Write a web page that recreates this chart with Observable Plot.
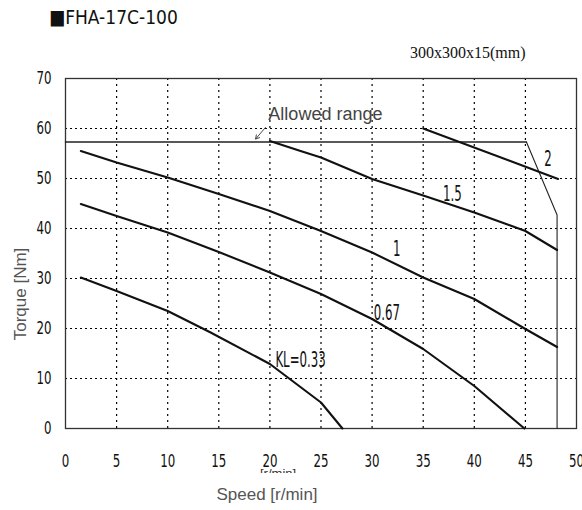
<!DOCTYPE html>
<html>
<head>
<meta charset="utf-8">
<script src="https://cdn.jsdelivr.net/npm/d3@7"></script>
<script src="https://cdn.jsdelivr.net/npm/@observablehq/plot@0.6"></script>
<style>
  html, body { margin: 0; padding: 0; background: #fff; }
  #wrap { position: relative; width: 582px; height: 510px; overflow: hidden; }
  #wrap svg { position: absolute; left: 0; top: 0; }
  .narrow { font-family: "Liberation Sans Narrow", "DejaVu Sans Condensed", "Arial Narrow", sans-serif; }
  #title { position: absolute; left: 49px; top: 5px; font-size: 20px; color: #111; transform: scaleX(0.95); transform-origin: left center; white-space: nowrap; }
  #sub { position: absolute; left: 410px; top: 44px; font-family: "Liberation Serif", "DejaVu Serif", serif; font-size: 16px; color: #111; white-space: nowrap; }
  #unit { position: absolute; left: 260px; top: 466px; height: 7px; overflow: hidden; font-family: "Liberation Sans", Arial, sans-serif; font-size: 13px; line-height: 15px; color: #333; white-space: nowrap; }
  #ylab { position: absolute; left: 21px; top: 294px; font-family: "Liberation Sans", Arial, sans-serif; font-size: 17px; color: #555; white-space: nowrap; transform: translate(-50%, -50%) rotate(-90deg); }
</style>
</head>
<body>
<div id="wrap">
  <div id="title" class="narrow">■FHA-17C-100</div>
  <div id="sub">300x300x15(mm)</div>
  <div id="unit">[r/min]</div>
  <div id="ylab"></div>
</div>
<script>
// ---- data ----
const xTicks = [0, 5, 10, 15, 20, 25, 30, 35, 40, 45, 50];
const yTicks = [0, 10, 20, 30, 40, 50, 60, 70];

const curveNames = ["2", "1.5", "1", "0.67", "KL=0.33"];

const speed2 = [35, 48.2];
const torque2 = [60, 49.9];

const speed15 = [20, 23, 25, 30, 35, 40, 45, 48.1];
const torque15 = [57.5, 55.5, 54.2, 49.9, 46.6, 43.2, 39.5, 35.7];

const speed1 = [1.5, 5, 10, 15, 20, 25, 30, 35, 40, 45, 48.1];
const torque1 = [55.5, 53.2, 50.2, 46.9, 43.5, 39.5, 35.2, 30.2, 25.9, 19.9, 16.3];

const speed067 = [1.5, 5, 10, 15, 20, 25, 30, 35, 40, 44.9];
const torque067 = [44.9, 42.5, 39.2, 35.3, 31.2, 26.9, 21.9, 15.9, 8.5, 0];

const speed033 = [1.5, 5, 10, 14.2, 20, 25, 27.1];
const torque033 = [30.2, 27.5, 23.5, 19.2, 12.9, 5.2, 0];

const allowedSpeed = [0, 45.1, 48.1, 48.1];
const allowedTorque = [57.3, 57.3, 42.7, 0];

const labelSpeed = [47.2, 37.85, 32.4, 31.45, 23.0];
const labelTorque = [53.8, 46.8, 35.9, 23.1, 13.7];

const allowedLabel = "Allowed range";
const allowedLabelSpeed = 19.85;
const allowedLabelTorque = 62.9;
const arrowFrom = [19.56, 60.2];
const arrowTo = [18.6, 57.9];

const xLabel = "Speed [r/min]";
const yLabel = "Torque [Nm]";

// ---- build tables ----
const speeds = [speed2, speed15, speed1, speed067, speed033];
const torques = [torque2, torque15, torque1, torque067, torque033];
const curves = [];
curveNames.forEach((n, i) => speeds[i].forEach((s, j) => curves.push({kl: n, speed: s, torque: torques[i][j]})));
const allowed = allowedSpeed.map((s, i) => ({speed: s, torque: allowedTorque[i]}));
const allowedFlat = allowed.slice(0, 2);
const allowedEdge = allowed.slice(1);
const labels = curveNames.map((n, i) => ({name: n, speed: labelSpeed[i], torque: labelTorque[i]}));
const gridX = xTicks.filter(t => t > 0 && t < 50);
const gridY = yTicks.filter(t => t > 0 && t < 70);

const narrow = '"Liberation Sans Narrow", "DejaVu Sans Condensed", "Arial Narrow", sans-serif';
const sans = '"Liberation Sans", Arial, sans-serif';

const chart = Plot.plot({
  width: 582,
  height: 510,
  marginLeft: 65,
  marginRight: 6,
  marginTop: 78,
  marginBottom: 82,
  style: {fontFamily: narrow, fontSize: "16px", color: "#111", background: "transparent"},
  x: {domain: [0, 50]},
  y: {domain: [0, 70]},
  marks: [
    Plot.gridX(gridX, {stroke: "#000", strokeOpacity: 1, strokeDasharray: "2,4", strokeWidth: 1.2}),
    Plot.gridY(gridY, {stroke: "#000", strokeOpacity: 1, strokeDasharray: "2,3", strokeWidth: 1.2}),
    Plot.frame({stroke: "#333", strokeWidth: 1.3}),
    Plot.axisX(xTicks, {tickSize: 0, tickPadding: 25, label: null, fontSize: 16, fontFamily: narrow}),
    Plot.axisY(yTicks, {tickSize: 0, tickPadding: 14, label: null, fontSize: 16, fontFamily: narrow}),
    Plot.line(allowedFlat, {x: "speed", y: "torque", stroke: "#222", strokeWidth: 1.5}),
    Plot.line(allowedEdge, {x: "speed", y: "torque", stroke: "#222", strokeWidth: 1.1}),
    Plot.line(curves, {x: "speed", y: "torque", z: "kl", stroke: "#111", strokeWidth: 2.1}),
    Plot.text(labels, {x: "speed", y: "torque", text: "name", fontSize: 17, fontFamily: narrow, fill: "#111"}),
    Plot.text([allowedLabel], {x: allowedLabelSpeed, y: allowedLabelTorque, text: d => d, textAnchor: "start", fontSize: 18, fontFamily: sans, fill: "#444"}),
    Plot.arrow([{x1: arrowFrom[0], y1: arrowFrom[1], x2: arrowTo[0], y2: arrowTo[1]}], {x1: "x1", y1: "y1", x2: "x2", y2: "y2", stroke: "#333", strokeWidth: 0.9, headLength: 7}),
    Plot.text([xLabel], {frameAnchor: "bottom", dx: -54, dy: 71, text: d => d, fontSize: 17, fontFamily: sans, fill: "#555"})
  ]
});
document.getElementById("wrap").prepend(chart);
document.getElementById("ylab").textContent = yLabel;

// narrow/tall glyphs like the reference's Gothic font
function squeeze(nodes, sx, sy) {
  nodes.forEach(t => {
    const tr = t.getAttribute("transform") || "";
    t.setAttribute("transform", `${tr} scale(${sx},${sy})`);
  });
}
squeeze(chart.querySelectorAll('g[aria-label="x-axis tick label"] text'), 0.82, 1.15);
squeeze(chart.querySelectorAll('g[aria-label="y-axis tick label"] text'), 0.82, 1.15);
const textGroups = chart.querySelectorAll('g[aria-label="text"]');
if (textGroups.length) squeeze(textGroups[0].querySelectorAll("text"), 0.77, 1.2);
</script>
</body>
</html>
